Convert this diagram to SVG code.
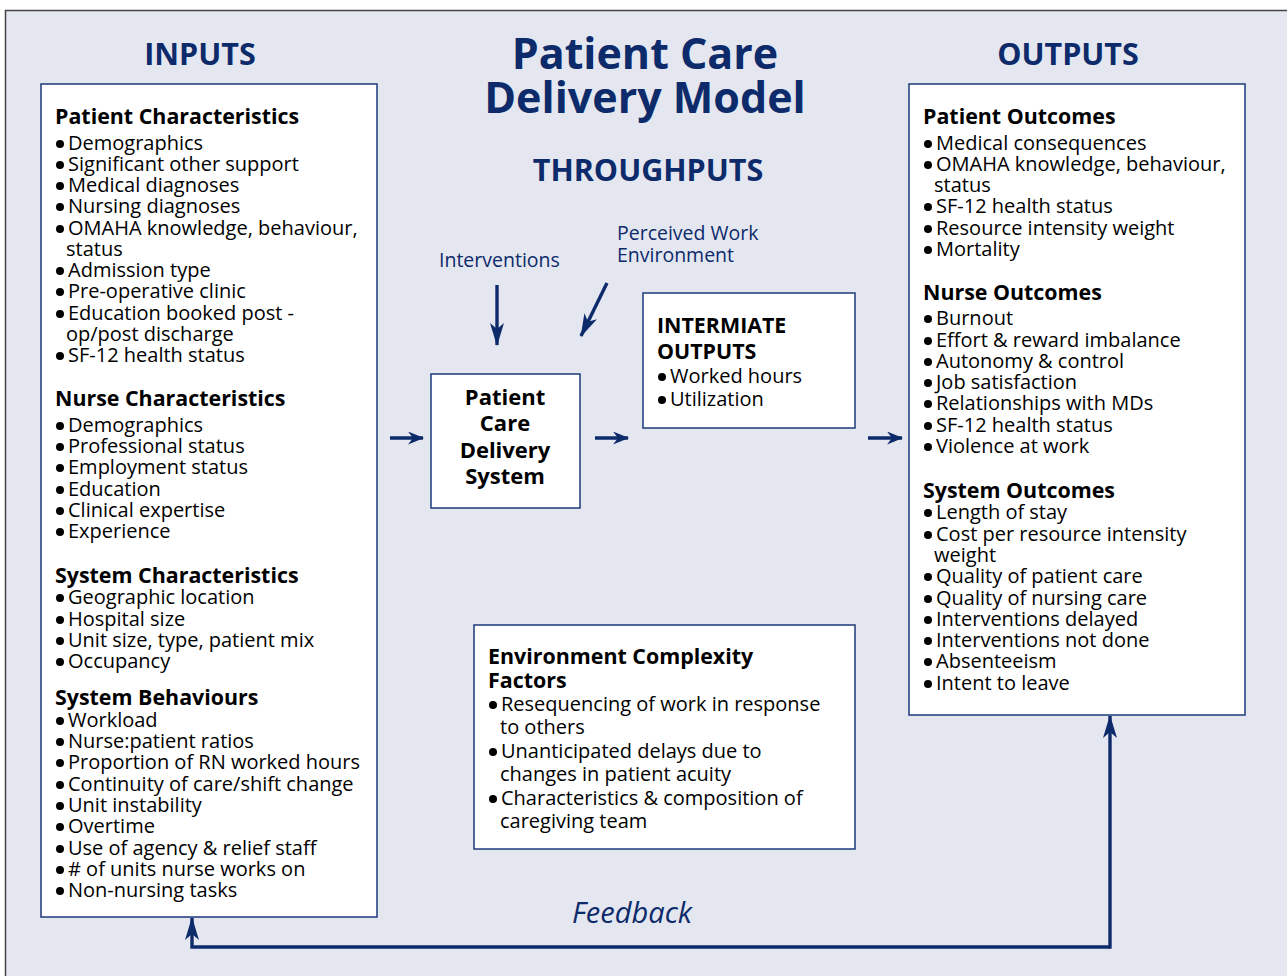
<svg xmlns="http://www.w3.org/2000/svg" width="1287" height="976" viewBox="0 0 1287 976">
  <defs>
    <style>
      text { font-family: "Open Sans", "Noto Sans", "DejaVu Sans", sans-serif; }
      .title { font-size: 30.5px; font-weight: bold; fill: #0d2a6b; text-anchor: middle; }
      .main { font-size: 43px; font-weight: bold; fill: #0d2a6b; text-anchor: middle; }
      .lbl { font-size: 19.5px; fill: #0d2a6b; }
      .hd { font-size: 21.4px; font-weight: bold; fill: #000; }
      .it { font-size: 20px; fill: #000; }
      .ctr { font-size: 22px; font-weight: bold; fill: #000; text-anchor: middle; }
      .box { fill: #fff; stroke: #1d3a7a; stroke-width: 1.5; }
      .con { stroke: #0d2a6b; stroke-width: 3.4; fill: none; }
      .fb { font-size: 29px; font-style: italic; fill: #0d2a6b; }
    </style>
    <circle id="b" r="4" fill="#000"/>
    <!-- long notched head for the vertical, slanted and feedback arrows -->
    <marker id="ah" viewBox="0 0 23 14" refX="22" refY="7" markerWidth="23" markerHeight="14" markerUnits="userSpaceOnUse" orient="auto">
      <path d="M0,0 L23,7 L0,14 L6,7 Z" fill="#0d2a6b"/>
    </marker>
    <!-- short head for the horizontal flow arrows -->
    <marker id="ahs" viewBox="0 0 16 13" refX="15" refY="6.5" markerWidth="16" markerHeight="13" markerUnits="userSpaceOnUse" orient="auto">
      <path d="M0,0 L16,6.5 L0,13 L5,6.5 Z" fill="#0d2a6b"/>
    </marker>
  </defs>

  <!-- page background and frame -->
  <rect x="5.5" y="10.5" width="1300" height="990" fill="#e4e7f0" stroke="#444" stroke-width="1.5"/>

  <!-- headings -->
  <text class="title" x="200" y="65">INPUTS</text>
  <text class="title" x="1068" y="65">OUTPUTS</text>
  <text class="main" x="645" y="69">Patient Care</text>
  <text class="main" x="645" y="113">Delivery Model</text>
  <text class="title" x="648" y="181">THROUGHPUTS</text>

  <!-- inputs -->
  <g id="inputs">
    <rect class="box" x="41" y="84" width="336" height="833"/>
    <text class="hd" x="55" y="124">Patient Characteristics</text>
    <use href="#b" x="60" y="144"/><text class="it" x="68" y="150">Demographics</text>
    <use href="#b" x="60" y="165"/><text class="it" x="68" y="171">Significant other support</text>
    <use href="#b" x="60" y="186"/><text class="it" x="68" y="192">Medical diagnoses</text>
    <use href="#b" x="60" y="207"/><text class="it" x="68" y="213">Nursing diagnoses</text>
    <use href="#b" x="60" y="229"/><text class="it" x="68" y="235">OMAHA knowledge, behaviour,</text>
    <text class="it" x="66" y="256">status</text>
    <use href="#b" x="60" y="271"/><text class="it" x="68" y="277">Admission type</text>
    <use href="#b" x="60" y="292"/><text class="it" x="68" y="298">Pre-operative clinic</text>
    <use href="#b" x="60" y="314"/><text class="it" x="68" y="320">Education booked post -</text>
    <text class="it" x="66" y="341">op/post discharge</text>
    <use href="#b" x="60" y="356"/><text class="it" x="68" y="362">SF-12 health status</text>
    <text class="hd" x="55" y="406">Nurse Characteristics</text>
    <use href="#b" x="60" y="426"/><text class="it" x="68" y="432">Demographics</text>
    <use href="#b" x="60" y="447"/><text class="it" x="68" y="453">Professional status</text>
    <use href="#b" x="60" y="468"/><text class="it" x="68" y="474">Employment status</text>
    <use href="#b" x="60" y="490"/><text class="it" x="68" y="496">Education</text>
    <use href="#b" x="60" y="511"/><text class="it" x="68" y="517">Clinical expertise</text>
    <use href="#b" x="60" y="532"/><text class="it" x="68" y="538">Experience</text>
    <text class="hd" x="55" y="583">System Characteristics</text>
    <use href="#b" x="60" y="598"/><text class="it" x="68" y="604">Geographic location</text>
    <use href="#b" x="60" y="620"/><text class="it" x="68" y="626">Hospital size</text>
    <use href="#b" x="60" y="641"/><text class="it" x="68" y="647">Unit size, type, patient mix</text>
    <use href="#b" x="60" y="662"/><text class="it" x="68" y="668">Occupancy</text>
    <text class="hd" x="55" y="705">System Behaviours</text>
    <use href="#b" x="60" y="721"/><text class="it" x="68" y="727">Workload</text>
    <use href="#b" x="60" y="742"/><text class="it" x="68" y="748">Nurse:patient ratios</text>
    <use href="#b" x="60" y="763"/><text class="it" x="68" y="769">Proportion of RN worked hours</text>
    <use href="#b" x="60" y="785"/><text class="it" x="68" y="791">Continuity of care/shift change</text>
    <use href="#b" x="60" y="806"/><text class="it" x="68" y="812">Unit instability</text>
    <use href="#b" x="60" y="827"/><text class="it" x="68" y="833">Overtime</text>
    <use href="#b" x="60" y="849"/><text class="it" x="68" y="855">Use of agency &amp; relief staff</text>
    <use href="#b" x="60" y="870"/><text class="it" x="68" y="876"># of units nurse works on</text>
    <use href="#b" x="60" y="891"/><text class="it" x="68" y="897">Non-nursing tasks</text>
  </g>

  <!-- throughput: delivery system -->
  <g id="delivery-system">
    <rect class="box" x="431" y="374" width="149" height="134"/>
    <text class="ctr" x="505" y="405">Patient</text>
    <text class="ctr" x="505" y="431">Care</text>
    <text class="ctr" x="505" y="458">Delivery</text>
    <text class="ctr" x="505" y="484">System</text>
  </g>

  <g id="interventions">
    <text class="lbl" x="439" y="267">Interventions</text>
  </g>
  <g id="perceived-work-environment">
    <text class="lbl" x="617" y="240">Perceived Work</text>
    <text class="lbl" x="617" y="262">Environment</text>
  </g>

  <g id="intermediate-outputs">
    <rect class="box" x="643" y="293" width="212" height="135"/>
    <text class="hd" x="657" y="333">INTERMIATE</text>
    <text class="hd" x="657" y="359">OUTPUTS</text>
    <use href="#b" x="662" y="377"/><text class="it" x="670" y="383">Worked hours</text>
    <use href="#b" x="662" y="400"/><text class="it" x="670" y="406">Utilization</text>
  </g>

  <g id="environment-complexity">
    <rect class="box" x="474" y="625" width="381" height="224"/>
    <text class="hd" x="488" y="664">Environment Complexity</text>
    <text class="hd" x="488" y="688">Factors</text>
    <use href="#b" x="493" y="705"/><text class="it" x="501" y="711">Resequencing of work in response</text>
    <text class="it" x="500" y="734">to others</text>
    <use href="#b" x="493" y="752"/><text class="it" x="501" y="758">Unanticipated delays due to</text>
    <text class="it" x="500" y="781">changes in patient acuity</text>
    <use href="#b" x="493" y="799"/><text class="it" x="501" y="805">Characteristics &amp; composition of</text>
    <text class="it" x="500" y="828">caregiving team</text>
  </g>

  <!-- outputs -->
  <g id="outputs">
    <rect class="box" x="909" y="84" width="336" height="631"/>
    <text class="hd" x="923" y="124">Patient Outcomes</text>
    <use href="#b" x="928" y="144"/><text class="it" x="936" y="150">Medical consequences</text>
    <use href="#b" x="928" y="165"/><text class="it" x="936" y="171">OMAHA knowledge, behaviour,</text>
    <text class="it" x="934" y="192">status</text>
    <use href="#b" x="928" y="207"/><text class="it" x="936" y="213">SF-12 health status</text>
    <use href="#b" x="928" y="229"/><text class="it" x="936" y="235">Resource intensity weight</text>
    <use href="#b" x="928" y="250"/><text class="it" x="936" y="256">Mortality</text>
    <text class="hd" x="923" y="300">Nurse Outcomes</text>
    <use href="#b" x="928" y="319"/><text class="it" x="936" y="325">Burnout</text>
    <use href="#b" x="928" y="341"/><text class="it" x="936" y="347">Effort &amp; reward imbalance</text>
    <use href="#b" x="928" y="362"/><text class="it" x="936" y="368">Autonomy &amp; control</text>
    <use href="#b" x="928" y="383"/><text class="it" x="936" y="389">Job satisfaction</text>
    <use href="#b" x="928" y="404"/><text class="it" x="936" y="410">Relationships with MDs</text>
    <use href="#b" x="928" y="426"/><text class="it" x="936" y="432">SF-12 health status</text>
    <use href="#b" x="928" y="447"/><text class="it" x="936" y="453">Violence at work</text>
    <text class="hd" x="923" y="498">System Outcomes</text>
    <use href="#b" x="928" y="513"/><text class="it" x="936" y="519">Length of stay</text>
    <use href="#b" x="928" y="535"/><text class="it" x="936" y="541">Cost per resource intensity</text>
    <text class="it" x="934" y="562">weight</text>
    <use href="#b" x="928" y="577"/><text class="it" x="936" y="583">Quality of patient care</text>
    <use href="#b" x="928" y="599"/><text class="it" x="936" y="605">Quality of nursing care</text>
    <use href="#b" x="928" y="620"/><text class="it" x="936" y="626">Interventions delayed</text>
    <use href="#b" x="928" y="641"/><text class="it" x="936" y="647">Interventions not done</text>
    <use href="#b" x="928" y="662"/><text class="it" x="936" y="668">Absenteeism</text>
    <use href="#b" x="928" y="684"/><text class="it" x="936" y="690">Intent to leave</text>
  </g>

  <!-- connectors -->
  <g id="connectors">
    <line class="con" x1="497" y1="285" x2="497" y2="345" marker-end="url(#ah)"/>
    <line class="con" x1="607" y1="283" x2="581" y2="336" marker-end="url(#ah)"/>
    <line class="con" x1="390" y1="438" x2="423" y2="438" marker-end="url(#ahs)"/>
    <line class="con" x1="595" y1="438" x2="628" y2="438" marker-end="url(#ahs)"/>
    <line class="con" x1="868" y1="438" x2="902" y2="438" marker-end="url(#ahs)"/>
    <polyline class="con" points="1110,947 192,947 192,918" marker-end="url(#ah)"/>
    <line class="con" x1="1110" y1="948.7" x2="1110" y2="716" marker-end="url(#ah)"/>
    <text class="fb" x="572" y="923">Feedback</text>
  </g>
</svg>
